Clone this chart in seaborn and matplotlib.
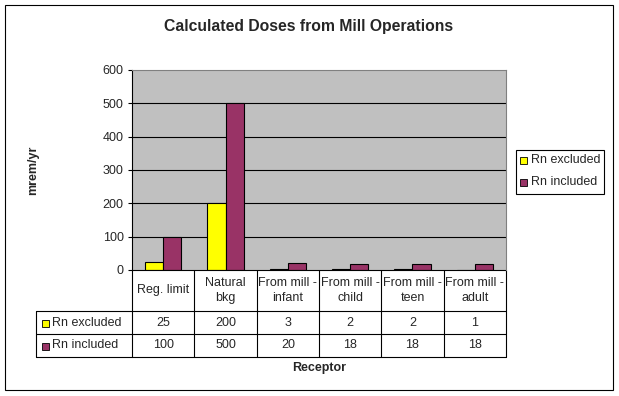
import matplotlib
matplotlib.use("Agg")
import matplotlib.pyplot as plt
from matplotlib.patches import Rectangle
import matplotlib.transforms as mtransforms
import seaborn as sns
import pandas as pd

categories = ["Reg. limit", "Natural\nbkg", "From mill -\ninfant", "From mill -\nchild",
              "From mill -\nteen", "From mill -\nadult"]
series_names = ["Rn excluded", "Rn included"]
rn_excluded = [25, 200, 3, 2, 2, 1]
rn_included = [100, 500, 20, 18, 18, 18]
yticks = [0, 100, 200, 300, 400, 500, 600]
colors = ["#FFFF00", "#993366"]

df = pd.DataFrame({
    "cat": categories * 2,
    "series": [series_names[0]] * 6 + [series_names[1]] * 6,
    "value": rn_excluded + rn_included,
})

sns.set_theme(style="white")
plt.rcParams["font.family"] = ["Liberation Sans", "DejaVu Sans"]

W, H = 619, 396
fig = plt.figure(figsize=(W / 100, H / 100), dpi=100)
fig.patch.set_facecolor("white")

def fx(px):
    return px / W

def fy(py):
    return 1 - py / H

FS = 9
L, R, T, B = 132, 506, 70, 270
ax = fig.add_axes([fx(L), fy(B), (R - L) / W, (B - T) / H])
ax.set_facecolor("#C0C0C0")

sns.barplot(data=df, x="cat", y="value", hue="series", palette=colors, width=0.58,
            edgecolor="black", linewidth=0.8, ax=ax, legend=False, saturation=1)
ax.set_xlim(-0.5, 5.5)
ax.set_ylim(0, 600)
ax.set_yticks(yticks)
ax.set_yticklabels([str(v) for v in yticks], fontsize=FS)
ax.tick_params(axis="y", length=3, width=0.8, color="black", pad=3, left=True)
ax.set_xticks([])
ax.set_xlabel("")
ax.set_ylabel("")
for v in yticks[1:-1]:
    ax.axhline(v, color="black", lw=0.8, zorder=0)
ax.set_axisbelow(True)
for s in ["top", "right"]:
    ax.spines[s].set_color("#808080")
    ax.spines[s].set_linewidth(0.8)
ax.spines["left"].set_color("black")
ax.spines["left"].set_linewidth(0.8)
ax.spines["bottom"].set_visible(False)

# Data table
trans = mtransforms.blended_transform_factory(ax.transData, ax.transAxes)
ytops = [B, B + 41, B + 64, B + 87]
def ay(py):
    return -(py - B) / (B - T)

lkw = dict(color="black", lw=0.8, clip_on=False, transform=trans)
for py in ytops:
    ax.plot([-0.5, 5.5], [ay(py), ay(py)], **lkw)
tleft = 36
afig = fig.transFigure
for py in ytops[1:]:
    fig.add_artist(plt.Line2D([fx(tleft), fx(L)], [fy(py), fy(py)], color="black", lw=0.8))
fig.add_artist(plt.Line2D([fx(tleft), fx(tleft)], [fy(ytops[1]), fy(ytops[3])], color="black", lw=0.8))
for i in range(7):
    x = i - 0.5
    ax.plot([x, x], [ay(ytops[0]), ay(ytops[3])], **lkw)

for i, c in enumerate(categories):
    ax.text(i, ay((ytops[0] + ytops[1]) / 2), c, ha="center", va="center",
            fontsize=FS, linespacing=1.35, transform=trans, clip_on=False)
    ax.text(i, ay((ytops[1] + ytops[2]) / 2), str(rn_excluded[i]), ha="center", va="center",
            fontsize=FS, transform=trans)
    ax.text(i, ay((ytops[2] + ytops[3]) / 2), str(rn_included[i]), ha="center", va="center",
            fontsize=FS, transform=trans)

for k, name in enumerate(series_names):
    yc = (ytops[1 + k] + ytops[2 + k]) / 2
    fig.add_artist(Rectangle((fx(42), fy(yc + 4)), 7 / W, 7 / H, facecolor=colors[k],
                             edgecolor="black", lw=0.6, transform=afig))
    fig.text(fx(52), fy(yc), name, ha="left", va="center", fontsize=FS)

# Legend
fig.add_artist(Rectangle((fx(516), fy(194)), 88 / W, 44 / H, facecolor="white",
                         edgecolor="black", lw=0.8, transform=afig))
for k, name in enumerate(series_names):
    yc = 160 + k * 22
    fig.add_artist(Rectangle((fx(520), fy(yc + 3.5)), 7 / W, 7 / H, facecolor=colors[k],
                             edgecolor="black", lw=0.6, transform=afig))
    fig.text(fx(531), fy(yc), name, ha="left", va="center", fontsize=FS)

fig.text(fx(309), fy(27), "Calculated Doses from Mill Operations", ha="center", va="center",
         fontsize=11.3, fontweight="bold")
fig.text(fx(33), fy(170), "mrem/yr", ha="center", va="center", rotation=90,
         fontsize=FS, fontweight="bold")
fig.text(fx(319), fy(368), "Receptor", ha="center", va="center", fontsize=FS, fontweight="bold")

fig.add_artist(Rectangle((fx(5), fy(390)), 608 / W, 385 / H, facecolor="none",
                         edgecolor="black", lw=0.8, transform=afig))

fig.savefig("out.png", dpi=100)
